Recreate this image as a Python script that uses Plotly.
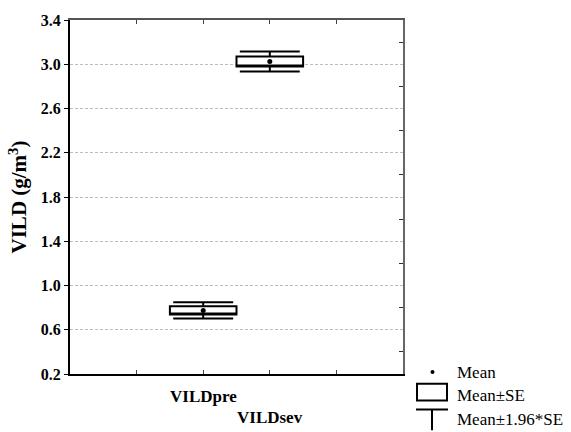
import plotly.graph_objects as go

categories = ["VILDpre", "VILDsev"]
means = [0.775, 3.025]
se = [0.037, 0.046]
ytick_vals = [0.2, 0.6, 1.0, 1.4, 1.8, 2.2, 2.6, 3.0, 3.4]
ytick_text = ["0.2", "0.6", "1.0", "1.4", "1.8", "2.2", "2.6", "3.0", "3.4"]
legend_labels = ["Mean", "Mean±SE", "Mean±1.96*SE"]

positions = [i + 2 for i in range(len(categories))]
FONT = "Liberation Serif, Times New Roman, serif"

fig = go.Figure()
for p, m, s in zip(positions, means, se):
    fig.add_trace(go.Box(
        x=[p], q1=[m - s], q3=[m + s], median=[m - s],
        lowerfence=[m - 1.96 * s], upperfence=[m + 1.96 * s],
        width=1.0, whiskerwidth=0.9,
        fillcolor="white", line=dict(color="black", width=2),
        showlegend=False, hoverinfo="skip",
    ))
fig.add_trace(go.Scatter(
    x=positions, y=means, mode="markers",
    marker=dict(color="black", size=5, symbol="circle"),
    showlegend=False, hoverinfo="skip",
))
fig.add_trace(go.Scatter(x=[0, 5], y=[0.2, 0.2], xaxis="x2", yaxis="y2", mode="lines",
                         line=dict(width=0), showlegend=False, hoverinfo="skip"))

fig.update_layout(
    width=571, height=432,
    margin=dict(l=70, r=168, t=15, b=58),
    paper_bgcolor="white", plot_bgcolor="white",
    font=dict(family=FONT, color="black"),
    xaxis=dict(range=[0, 5], tickvals=[0, 1, 2, 3, 4, 5], ticks="inside", ticklen=4,
               tickcolor="#444", showticklabels=False, showgrid=False, zeroline=False,
               showline=True, linecolor="black", linewidth=1.5),
    yaxis=dict(range=[0.2, 3.4], tickvals=ytick_vals,
               ticktext=[f"<b>{t}</b>" for t in ytick_text],
               ticks="outside", ticklen=4, tickcolor="black",
               tickfont=dict(family=FONT, size=16, color="black"),
               showgrid=True, gridcolor="#bdbdbd", griddash="3px,2px", gridwidth=1,
               zeroline=False, showline=True, linecolor="black", linewidth=2,
               title=dict(text="<b>VILD (g/m<sup>3</sup>)</b>",
                          font=dict(family=FONT, size=21, color="black"), standoff=8)),
    xaxis2=dict(range=[0, 5], overlaying="x", side="top", tickvals=[1, 2, 3, 4],
                ticks="inside", ticklen=4, tickcolor="#444", showticklabels=False,
                showgrid=False, zeroline=False, showline=True, linecolor="#555", linewidth=1.5),
    yaxis2=dict(range=[0.2, 3.4], overlaying="y", side="right",
                tickvals=[0.4, 0.8, 1.2, 1.6, 2.0, 2.4, 2.8, 3.2],
                ticks="inside", ticklen=4, tickcolor="#333", showticklabels=False,
                showgrid=False, zeroline=False, showline=True, linecolor="#666", linewidth=2),
)

# category labels (staggered)
for i, (p, c) in enumerate(zip(positions, categories)):
    fig.add_annotation(x=p, y=0, xref="x", yref="paper", text=f"<b>{c}</b>",
                       showarrow=False, yanchor="top", yshift=-11 - 21 * i,
                       font=dict(family=FONT, size=17, color="black"))

# custom legend (pixel -> paper)
def px(xp):
    return (xp - 70) / 333.0
def py(yp):
    return (374 - yp) / 359.0

fig.add_shape(type="circle", xref="paper", yref="paper",
              x0=px(430.5), x1=px(434.5), y0=py(370), y1=py(374),
              fillcolor="black", line=dict(color="black", width=0))
fig.add_shape(type="rect", xref="paper", yref="paper",
              x0=px(417), x1=px(447), y0=py(384), y1=py(401),
              fillcolor="white", line=dict(color="black", width=2))
fig.add_shape(type="line", xref="paper", yref="paper",
              x0=px(416), x1=px(448), y0=py(410), y1=py(410),
              line=dict(color="black", width=2))
fig.add_shape(type="line", xref="paper", yref="paper",
              x0=px(432), x1=px(432), y0=py(410), y1=py(431),
              line=dict(color="black", width=2))
for lab, yc in zip(legend_labels, [372, 396, 420]):
    fig.add_annotation(x=px(455), y=py(yc), xref="paper", yref="paper", text=lab,
                       showarrow=False, xanchor="left", yanchor="middle",
                       font=dict(family=FONT, size=17, color="black"))

fig.write_html("out.html")
